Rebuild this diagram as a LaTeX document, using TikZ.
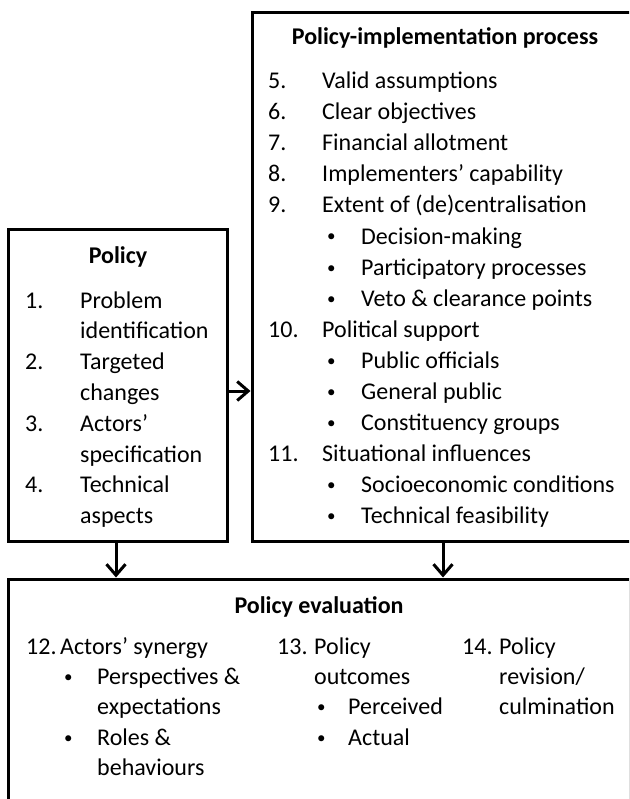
\documentclass[tikz,border=0pt]{standalone}
\usepackage{fontspec}
\setmainfont{Carlito}
\usetikzlibrary{arrows.meta}
\tikzset{
  boxline/.style={draw=black, line width=3pt, inner sep=0pt},
  txt/.style={anchor=base west, inner sep=0pt, font=\fontsize{24}{31}\selectfont, text=black},
  bul/.style={anchor=base west, inner sep=0pt, font=\fontsize{17}{31}\selectfont, text=black, yshift=2pt},
  ttl/.style={anchor=base, inner sep=0pt, font=\fontsize{24}{31}\selectfont\bfseries, text=black},
  arr/.style={line width=3pt, -{Straight Barb[length=11pt,width=19pt]}}
}
\begin{document}
\begin{tikzpicture}[x=1pt,y=-1pt]
\useasboundingbox (0,0) rectangle (629,799);
\clip (0,0) rectangle (629,799);
% boxes
\node[boxline, minimum width=219pt, minimum height=311pt] (pol) at (117.5,385.5) {};
\node[boxline, minimum width=385pt, minimum height=528pt] (impl) at (444.5,277) {};
\node[boxline, minimum width=622pt, minimum height=251pt] (eval) at (319,704.5) {};
% arrows
\coordinate (a1) at (pol.east |- 0,391);
\draw[arr] (a1) -- (a1 -| impl.west);
\coordinate (a2) at (pol.south -| 116,0);
\draw[arr] (a2) -- (a2 |- eval.north);
\coordinate (a3) at (impl.south -| 443,0);
\draw[arr] (a3) -- (a3 |- eval.north);
% Policy box
\node[ttl] (polT) at (118,263) {Policy};
\node[txt] (pn1) at (25,308) {1.};
\node[txt] (pt1a) at (80,308) {Problem};
\node[txt] (pt1b) at (80,338.8) {identification};
\node[txt] (pn2) at (25,369.6) {2.};
\node[txt] (pt2a) at (80,369.6) {Targeted};
\node[txt] (pt2b) at (80,400.4) {changes};
\node[txt] (pn3) at (25,431.2) {3.};
\node[txt] (pt3a) at (80,431.2) {Actors’};
\node[txt] (pt3b) at (80,462) {specification};
\node[txt] (pn4) at (25,492.8) {4.};
\node[txt] (pt4a) at (80,492.8) {Technical};
\node[txt] (pt4b) at (80,523.6) {aspects};
% Implementation box
\node[ttl] (implT) at (445,45) {Policy-implementation process};
\node[txt] (in5) at (268,89) {5.};
\node[txt] (it5) at (322,89) {Valid assumptions};
\node[txt] (in6) at (268,120) {6.};
\node[txt] (it6) at (322,120) {Clear objectives};
\node[txt] (in7) at (268,151) {7.};
\node[txt] (it7) at (322,151) {Financial allotment};
\node[txt] (in8) at (268,182) {8.};
\node[txt] (it8) at (322,182) {Implementers’ capability};
\node[txt] (in9) at (268,213) {9.};
\node[txt] (it9) at (322,213) {Extent of (de)centralisation};
\node[bul] (ib9a) at (327,244) {•};
\node[txt] (it9a) at (361,244) {Decision-making};
\node[bul] (ib9b) at (327,275) {•};
\node[txt] (it9b) at (361,275) {Participatory processes};
\node[bul] (ib9c) at (327,306) {•};
\node[txt] (it9c) at (361,306) {Veto \& clearance points};
\node[txt] (in10) at (268,337) {10.};
\node[txt] (it10) at (322,337) {Political support};
\node[bul] (ib10a) at (327,368) {•};
\node[txt] (it10a) at (361,368) {Public officials};
\node[bul] (ib10b) at (327,399) {•};
\node[txt] (it10b) at (361,399) {General public};
\node[bul] (ib10c) at (327,430) {•};
\node[txt] (it10c) at (361,430) {Constituency groups};
\node[txt] (in11) at (268,461) {11.};
\node[txt] (it11) at (322,461) {Situational influences};
\node[bul] (ib11a) at (327,492) {•};
\node[txt] (it11a) at (361,492) {Socioeconomic conditions};
\node[bul] (ib11b) at (327,523) {•};
\node[txt] (it11b) at (361,523) {Technical feasibility};
% Evaluation box
\node[ttl] (evalT) at (319,613) {Policy evaluation};
\node[txt] (en12) at (26,654) {12.};
\node[txt] (et12) at (60,654) {Actors’ synergy};
\node[bul] (eb12a) at (64,684) {•};
\node[txt] (et12a) at (97,684) {Perspectives \&};
\node[txt] (et12b) at (97,714) {expectations};
\node[bul] (eb12c) at (64,745) {•};
\node[txt] (et12c) at (97,745) {Roles \&};
\node[txt] (et12d) at (97,775) {behaviours};
\node[txt] (en13) at (277,654) {13.};
\node[txt] (et13) at (314,654) {Policy};
\node[txt] (et13b) at (314,684) {outcomes};
\node[bul] (eb13a) at (317,714) {•};
\node[txt] (et13a) at (348,714) {Perceived};
\node[bul] (eb13c) at (317,745) {•};
\node[txt] (et13c) at (348,745) {Actual};
\node[txt] (en14) at (462,654) {14.};
\node[txt] (et14) at (499,654) {Policy};
\node[txt] (et14b) at (499,684) {revision/};
\node[txt] (et14c) at (499,714) {culmination};
\end{tikzpicture}
\end{document}
